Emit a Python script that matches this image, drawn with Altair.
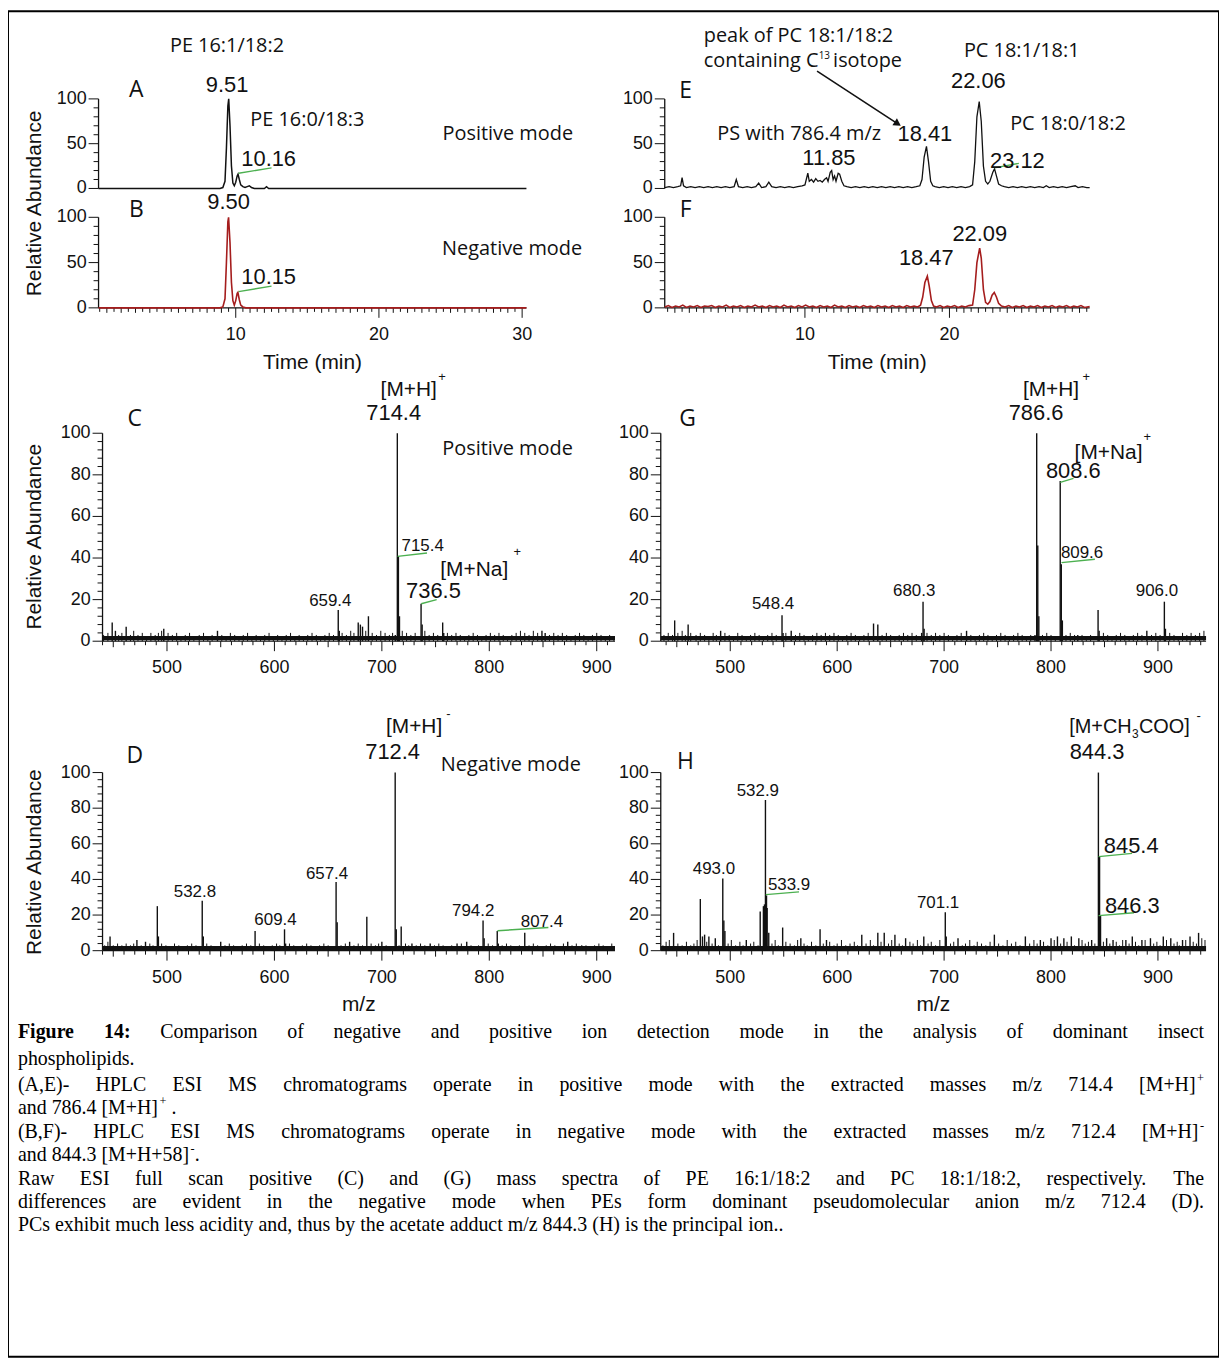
import altair as alt
import pandas as pd

W, H = 1217, 1352

# ---------------- chromatograms: (time [min], relative abundance [%]) ----------------
A_trace = [(0.42, 0), (8.9, 0), (9.1, 1), (9.25, 8), (9.35, 45), (9.45, 92), (9.51, 100), (9.6, 70),
           (9.7, 25), (9.8, 6), (9.9, 3), (10.0, 7), (10.1, 14), (10.16, 16), (10.25, 10), (10.35, 4),
           (10.5, 2), (10.65, 1), (10.8, 2), (10.95, 3), (11.1, 1), (11.3, 0), (12.0, 0), (12.15, 2),
           (12.3, 0), (30.3, 0)]
B_trace = [(0.42, 0), (8.9, 0), (9.1, 1), (9.25, 10), (9.35, 50), (9.45, 95), (9.50, 100), (9.6, 72),
           (9.7, 28), (9.8, 8), (9.9, 3), (10.0, 8), (10.1, 16), (10.15, 17), (10.25, 9), (10.35, 3),
           (10.5, 1), (10.7, 0), (30.3, 0)]
E_trace = [(0.3, 1), (0.6, 2), (0.9, 1), (1.2, 2), (1.4, 3), (1.5, 12), (1.6, 3), (1.8, 1), (2.1, 2),
           (2.4, 1), (2.7, 2), (3.0, 1), (3.3, 2), (3.6, 1), (3.9, 2), (4.2, 1), (4.5, 2), (4.8, 1),
           (5.1, 2), (5.25, 10), (5.4, 2), (5.7, 1), (6.0, 2), (6.3, 1), (6.6, 2), (6.8, 6), (7.0, 1),
           (7.3, 2), (7.5, 7), (7.7, 2), (8.0, 1), (8.3, 2), (8.6, 1), (8.9, 2), (9.2, 1), (9.5, 2),
           (9.8, 3), (10.0, 4), (10.2, 17), (10.3, 8), (10.45, 10), (10.6, 7), (10.75, 11), (10.9, 8),
           (11.05, 9), (11.2, 7), (11.35, 10), (11.5, 12), (11.6, 8), (11.75, 18), (11.85, 20),
           (11.95, 10), (12.05, 14), (12.15, 8), (12.3, 17), (12.4, 16), (12.55, 8), (12.7, 3),
           (12.9, 2), (13.2, 1), (13.5, 2), (13.8, 1), (14.1, 2), (14.4, 1), (14.7, 2), (15.0, 1),
           (15.3, 2), (15.6, 1), (15.9, 2), (16.2, 1), (16.5, 2), (16.8, 1), (17.1, 2), (17.4, 1),
           (17.7, 2), (17.95, 3), (18.1, 10), (18.25, 35), (18.41, 47), (18.55, 30), (18.7, 8),
           (18.85, 3), (19.0, 2), (19.3, 1), (19.6, 2), (19.9, 1), (20.2, 2), (20.5, 1), (20.8, 2),
           (21.1, 1), (21.4, 2), (21.6, 4), (21.75, 30), (21.9, 80), (22.06, 97), (22.2, 75),
           (22.35, 25), (22.5, 8), (22.65, 5), (22.8, 8), (23.0, 18), (23.12, 22), (23.25, 14),
           (23.4, 5), (23.6, 3), (23.8, 2), (24.1, 1), (24.4, 2), (24.7, 1), (25.0, 2), (25.3, 1),
           (25.6, 2), (25.9, 1), (26.2, 2), (26.5, 1), (26.7, 3), (26.9, 1), (27.2, 2), (27.5, 1),
           (27.8, 2), (28.1, 1), (28.4, 2), (28.7, 3), (28.9, 1), (29.2, 2), (29.5, 1), (29.7, 1)]
F_trace = [(0.3, 1), (0.55, 2.5), (0.8, 0.5), (1.05, 2), (1.3, 1), (1.55, 3), (1.8, 0.5), (2.05, 2),
           (2.3, 1), (2.55, 2.5), (2.8, 0.5), (3.05, 2), (3.3, 1.5), (3.55, 2.5), (3.8, 0.5), (4.05, 2),
           (4.3, 1), (4.55, 3), (4.8, 0.5), (5.05, 2), (5.3, 1), (5.55, 2.5), (5.8, 0.5), (6.05, 2),
           (6.3, 1), (6.55, 3), (6.8, 1), (7.05, 2), (7.3, 0.5), (7.55, 2.5), (7.8, 1), (8.05, 2),
           (8.3, 0.5), (8.55, 3), (8.8, 1), (9.05, 2), (9.3, 0.5), (9.55, 2.5), (9.8, 1), (10.05, 3),
           (10.3, 1), (10.55, 2), (10.8, 0.5), (11.05, 2.5), (11.3, 1), (11.55, 2), (11.8, 0.5),
           (12.05, 3), (12.3, 1), (12.55, 2), (12.8, 0.5), (13.05, 2.5), (13.3, 1), (13.55, 2),
           (13.8, 0.5), (14.05, 2.5), (14.3, 1), (14.55, 2), (14.8, 0.5), (15.05, 2.5), (15.3, 1),
           (15.55, 2), (15.8, 0.5), (16.05, 2.5), (16.3, 1), (16.55, 2), (16.8, 0.5), (17.05, 2.5),
           (17.3, 1), (17.55, 2), (17.8, 1), (18.0, 3), (18.15, 12), (18.3, 28), (18.47, 35),
           (18.6, 24), (18.75, 8), (18.9, 2), (19.1, 1), (19.35, 2.5), (19.6, 0.5), (19.85, 2),
           (20.1, 1), (20.35, 2.5), (20.6, 0.5), (20.85, 2), (21.1, 1), (21.35, 2.5), (21.6, 3),
           (21.75, 20), (21.9, 50), (22.09, 66), (22.2, 55), (22.35, 20), (22.5, 6), (22.65, 4),
           (22.8, 7), (22.95, 14), (23.1, 17), (23.25, 12), (23.4, 5), (23.6, 2), (23.85, 1),
           (24.1, 2.5), (24.35, 0.5), (24.6, 2), (24.85, 1), (25.1, 2.5), (25.35, 0.5), (25.6, 2),
           (25.85, 1), (26.1, 2.5), (26.35, 0.5), (26.6, 2), (26.85, 1), (27.1, 2.5), (27.35, 0.5),
           (27.6, 2), (27.85, 1), (28.1, 2.5), (28.35, 0.5), (28.6, 2), (28.85, 1), (29.1, 2.5),
           (29.35, 0.5), (29.7, 1.5)]

# ---------------- mass spectra: (m/z, relative abundance [%]) ----------------
C_peaks = [(449, 9), (452, 5), (462, 7), (497, 6), (547, 5), (659.4, 15), (660.4, 5), (678, 9),
           (680, 8), (682, 7), (687.5, 12), (712.5, 3), (714.4, 100), (715.4, 41), (716.4, 12),
           (736.5, 18), (737.5, 8), (756.6, 9), (757.6, 4), (849, 5), (852, 4)]
C_noise = [(441, 3), (445, 4), (455, 3), (458, 4), (466, 3), (469, 5), (473, 3), (477, 4), (481, 2),
           (485, 4), (489, 3), (492, 4), (495, 5), (501, 4), (505, 3), (509, 4), (513, 2), (517, 3),
           (521, 4), (525, 2), (530, 3), (534, 4), (538, 2), (542, 3), (551, 3), (555, 2), (559, 4),
           (563, 3), (567, 2), (571, 3), (575, 4), (579, 2), (583, 3), (587, 2), (591, 3), (595, 4),
           (599, 2), (603, 3), (607, 2), (611, 3), (615, 4), (619, 2), (623, 3), (627, 2), (631, 3),
           (635, 4), (639, 3), (643, 2), (647, 3), (651, 4), (655, 3), (663, 4), (667, 3), (671, 5),
           (674, 4), (685, 5), (691, 4), (695, 3), (699, 5), (703, 4), (707, 3), (710, 4), (719, 5),
           (723, 4), (727, 3), (731, 4), (740, 5), (744, 3), (748, 4), (752, 3), (761, 4), (765, 3),
           (769, 4), (773, 3), (777, 2), (781, 3), (785, 4), (789, 3), (793, 2), (797, 3), (801, 4),
           (805, 3), (809, 4), (813, 3), (817, 2), (821, 3), (825, 4), (829, 5), (833, 4), (837, 3),
           (841, 5), (845, 4), (856, 3), (860, 4), (864, 3), (868, 4), (872, 3), (876, 2), (880, 3),
           (884, 4), (888, 3), (892, 2), (896, 3), (900, 4), (904, 3), (908, 2), (912, 3), (916, 2)]
G_peaks = [(448, 10), (460.6, 8), (491, 5), (548.4, 12.5), (549.4, 4), (557, 5), (634, 8.5), (638, 8),
           (679, 4), (680.3, 19), (681.3, 6), (721, 5), (785, 3), (786.6, 100), (787.6, 46),
           (788.6, 12), (808.6, 77), (809.6, 37), (810.6, 10), (825, 3), (844, 15), (845, 5),
           (889.6, 5), (906.0, 19), (907, 6)]
G_noise = [(438, 3), (442, 4), (446, 3), (451, 4), (455, 5), (458, 3), (463, 4), (468, 3), (472, 4),
           (476, 3), (480, 2), (484, 4), (487, 3), (495, 4), (499, 3), (503, 2), (507, 4), (511, 3),
           (515, 2), (519, 3), (523, 4), (527, 3), (531, 2), (535, 3), (539, 4), (543, 3), (552, 4),
           (561, 3), (565, 4), (569, 3), (573, 2), (577, 3), (581, 4), (585, 3), (589, 4), (593, 3),
           (597, 4), (601, 3), (605, 2), (609, 3), (613, 4), (617, 3), (621, 2), (625, 3), (629, 4),
           (642, 3), (646, 4), (650, 3), (654, 2), (658, 3), (662, 4), (666, 3), (670, 4), (674, 3),
           (684, 4), (688, 3), (692, 4), (696, 3), (700, 4), (704, 3), (708, 2), (712, 3), (716, 4),
           (725, 3), (729, 2), (733, 3), (737, 4), (741, 3), (745, 2), (749, 3), (753, 4), (757, 3),
           (761, 2), (765, 3), (769, 4), (773, 3), (777, 2), (781, 3), (792, 3), (796, 4), (800, 3),
           (804, 2), (814, 3), (818, 4), (822, 3), (829, 3), (833, 2), (837, 3), (849, 4), (853, 3),
           (857, 2), (861, 3), (865, 4), (869, 3), (873, 2), (877, 3), (881, 4), (885, 3), (894, 3),
           (898, 4), (902, 3), (911, 4), (915, 3), (919, 2), (923, 4), (927, 3), (931, 4), (935, 3),
           (939, 4), (943, 5)]
D_peaks = [(447, 8), (472, 6), (480, 5), (491, 25), (492, 8), (532.8, 28), (533.8, 8), (550, 5),
           (582, 11), (609.4, 12), (610.4, 4), (657.4, 38.5), (658.4, 16), (670, 5), (686, 19),
           (700, 5), (712.4, 100), (713.4, 12), (718, 13.6), (728, 4), (745, 4), (770, 4), (779, 5),
           (794.2, 17), (795.2, 7), (807.4, 11), (808.4, 4), (833, 10), (873, 5), (886, 3)]
D_noise = [(442, 3), (445, 5), (450, 3), (454, 4), (458, 3), (462, 4), (466, 3), (469, 4), (476, 3),
           (484, 4), (487, 3), (495, 4), (499, 3), (503, 2), (507, 4), (511, 3), (515, 2), (519, 3),
           (523, 4), (527, 3), (537, 4), (541, 3), (545, 2), (554, 3), (558, 4), (562, 3), (566, 2),
           (570, 3), (574, 4), (578, 3), (586, 4), (590, 3), (594, 2), (598, 3), (602, 4), (605, 3),
           (614, 4), (618, 3), (622, 2), (626, 3), (630, 4), (634, 3), (638, 2), (642, 3), (646, 4),
           (650, 3), (654, 2), (662, 3), (666, 4), (674, 3), (678, 4), (682, 3), (690, 4), (694, 3),
           (697, 4), (704, 3), (708, 2), (716, 3), (722, 4), (725, 3), (732, 3), (736, 4), (740, 3),
           (749, 3), (753, 4), (757, 3), (761, 2), (765, 3), (774, 4), (783, 3), (787, 2), (790, 3),
           (799, 4), (803, 3), (812, 3), (816, 4), (820, 3), (824, 2), (828, 3), (837, 3), (841, 4),
           (845, 3), (849, 2), (853, 3), (857, 4), (861, 3), (865, 2), (869, 4), (877, 3), (881, 4),
           (890, 3), (894, 2), (898, 3), (902, 4), (906, 3), (910, 2), (914, 4)]
H_peaks = [(447, 10), (472, 29), (474, 8), (476, 9), (480, 8), (486, 7), (493.0, 40.5), (494, 17),
           (495, 11), (515, 6), (528, 22), (531, 25), (532, 26), (532.9, 84.6), (533.9, 31),
           (534.5, 24), (536, 10), (549, 13), (566, 7), (584, 12), (590, 6), (623, 9), (638, 10),
           (644, 10), (654, 9), (664, 7), (681, 8), (701.1, 21.6), (702, 8), (713, 7), (747, 9),
           (776, 8), (790, 6), (800, 7), (806, 8), (812, 7), (819, 8), (826, 7), (838, 6),
           (844.3, 100), (845.4, 53), (846.3, 20), (852, 7), (858, 6), (870, 6), (876, 8), (885, 6),
           (893, 7), (905, 8), (912, 7), (923, 6), (930, 8), (938, 10)]
H_noise = [(437, 3), (440, 5), (443, 6), (451, 4), (455, 3), (459, 5), (463, 3), (466, 4), (469, 6),
           (478, 5), (483, 4), (489, 3), (498, 4), (501, 6), (505, 3), (509, 5), (512, 3), (519, 4),
           (522, 5), (526, 3), (539, 4), (542, 6), (545, 3), (552, 5), (556, 4), (560, 3), (563, 6),
           (569, 4), (572, 3), (576, 5), (580, 3), (587, 4), (593, 5), (597, 3), (600, 4), (604, 6),
           (608, 3), (612, 4), (616, 5), (619, 3), (627, 4), (631, 6), (634, 3), (641, 5), (648, 4),
           (651, 6), (658, 4), (661, 3), (668, 5), (671, 4), (675, 6), (678, 3), (685, 4), (688, 5),
           (692, 3), (696, 6), (706, 4), (709, 5), (717, 3), (720, 4), (724, 6), (728, 3), (731, 5),
           (735, 4), (739, 3), (743, 5), (751, 4), (755, 3), (759, 6), (763, 4), (767, 5), (771, 3),
           (780, 4), (784, 6), (787, 4), (793, 5), (797, 3), (803, 6), (809, 4), (815, 5), (822, 3),
           (829, 6), (832, 4), (835, 5), (841, 4), (849, 5), (855, 4), (861, 5), (864, 3), (867, 6),
           (873, 4), (879, 5), (882, 3), (888, 6), (896, 4), (899, 5), (902, 3), (908, 6), (915, 4),
           (918, 5), (920, 3), (926, 6), (933, 5), (936, 4), (941, 7), (944, 6)]

# ---------------- axis ticks ----------------
TIME_TICKS = [i / 2 for i in range(1, 61)]
TIME_MAJOR = [10, 20, 30]
MZ_TICKS = list(range(440, 950, 10))
MZ_MAJOR = [500, 600, 700, 800, 900]

# ---------------- annotations (text, x in data units, y in %, font size) ----------------
A_num = [("9.51", 9.39, 115.6, 22), ("10.16", 12.3, 33, 22)]
A_ann = [("PE 16:1/18:2", 9.39, 159, 20), ("PE 16:0/18:3", 15.0, 76.7, 20),
         ("Positive mode", 29.0, 61, 20), ("A", 3.06, 109.4, 23)]
A_lead = [(10.2, 17, 12.5, 23)]
B_num = [("9.50", 9.5, 116.5, 22), ("10.15", 12.3, 34, 22)]
B_ann = [("Negative mode", 29.3, 65, 20), ("B", 3.06, 108, 23)]
B_lead = [(10.2, 18, 12.5, 24)]
E_num = [("22.06", 22.0, 120, 22), ("18.41", 18.3, 61, 22), ("11.85", 11.66, 34, 22), ("23.12", 24.7, 31, 22)]
E_ann = [("PC 18:1/18:1", 25.0, 153, 20), ("PS with 786.4 m/z", 9.6, 61, 20),
         ("PC 18:0/18:2", 28.2, 72, 20), ("E", 1.75, 109, 23)]
E_ann_left = [("peak of PC 18:1/18:2", 3.0, 170, 20), ("containing C", 3.0, 142, 20),
              ("13", 10.95, 147.5, 10), ("isotope", 11.95, 142, 20)]
E_lead = [(23.1, 23, 24.8, 28)]
E_arrow = [(10.84, 131, 16.35, 73)]
F_num = [("18.47", 18.4, 55, 22), ("22.09", 22.1, 81, 22)]
F_ann = [("F", 1.75, 108, 23)]
C_num = [("[M+H]", 725, 121, 21), ("+", 756, 127, 13), ("714.4", 711, 109.6, 22), ("715.4", 738, 45.6, 17),
         ("[M+Na]", 786, 34.4, 21), ("+", 826, 43, 13), ("736.5", 748, 24, 22), ("659.4", 652, 19.4, 17)]
C_ann = [("Positive mode", 817, 92.4, 20), ("C", 470, 107, 23)]
C_lead = [(714.6, 40.8, 742, 42.4), (736.6, 18, 751, 20)]
G_num = [("[M+H]", 800, 121, 21), ("+", 833, 127, 13), ("786.6", 786, 109.6, 22),
         ("[M+Na]", 853.8, 90.4, 21), ("+", 890, 98, 13), ("808.6", 820.8, 81.8, 22),
         ("809.6", 829, 42.5, 17), ("548.4", 540, 18.1, 17), ("680.3", 672, 24, 17), ("906.0", 899, 24, 17)]
G_ann = [("G", 460, 107, 23)]
G_lead = [(808.6, 76.4, 821, 78.3), (809.8, 37.8, 841, 39.4)]
D_num = [("[M+H]", 730, 125.7, 21), ("-", 762, 133, 13), ("712.4", 710, 111.7, 22),
         ("532.8", 526, 32.8, 17), ("657.4", 649, 43, 17), ("609.4", 601, 17.3, 17),
         ("794.2", 785, 22, 17), ("807.4", 849, 16.3, 17)]
D_ann = [("Negative mode", 820, 104, 20), ("D", 470, 109, 23)]
D_lead = [(807.6, 11.2, 855, 13)]
H_num = [("844.3", 843, 111.7, 22), ("532.9", 525.8, 89.8, 17), ("493.0", 484.7, 45.7, 17),
         ("533.9", 555, 37, 17), ("701.1", 694.4, 27, 17), ("845.4", 875, 58.6, 22), ("846.3", 876, 25.2, 22)]
H_num_left = [("[M+CH", 817, 125.7, 20), ("3", 875.8, 121.5, 12), ("COO]", 882.2, 125.7, 20), ("-", 936, 132, 13)]
H_ann = [("H", 458, 106, 23)]
H_lead = [(844.5, 52.8, 875.8, 54.6), (844.5, 19.7, 877.6, 21.3), (533.2, 31.5, 564.3, 33)]

CAPTION = [
    ("*Figure *14: Comparison of negative and positive ion detection mode in the analysis of dominant insect", True),
    ("phospholipids.", False),
    ("(A,E)- HPLC ESI MS chromatograms operate in positive mode with the extracted masses m/z 714.4 [M+H]^+", True),
    ("and 786.4 [M+H]^+ .", False),
    ("(B,F)- HPLC ESI MS chromatograms operate in negative mode with the extracted masses m/z 712.4 [M+H]^-", True),
    ("and 844.3 [M+H+58]^-.", False),
    ("Raw ESI full scan positive (C) and (G) mass spectra of PE 16:1/18:2 and PC 18:1/18:2, respectively. The", True),
    ("differences are evident in the negative mode when PEs form dominant pseudomolecular anion m/z 712.4 (D).", True),
    ("PCs exhibit much less acidity and, thus by the acetate adduct m/z 844.3 (H) is the principal ion..", False),
]
CAP_Y = [1026, 1053, 1079, 1102, 1126, 1149, 1173, 1197, 1220]
CAP_X0, CAP_X1, CAP_FS = 10, 1202, 20

# ---------------- layout (pixel ranges inside the bordered canvas) ----------------
AB_X = ([0.42, 30.3], [91, 521])
EF_X = ([0.3, 29.7], [660, 1087])
CD_X = ([440, 917], [95, 610])
GH_X = ([435, 945], [656, 1204])
A_Y, B_Y, C_Y, D_Y = [178, 88], [298, 207], [633, 424], [944, 765]

BLACK, RED, GREEN = "#111111", "#a51d1d", "#4cb050"
SANS, MYRIAD = "Liberation Sans", "Open Sans"


def sc(dom, rng):
    return alt.Scale(domain=dom, range=rng, nice=False, zero=False)


def X(xs, f="x"):
    return alt.X(f"{f}:Q", scale=xs, axis=None)


def Y(ys, f="y"):
    return alt.Y(f"{f}:Q", scale=ys, axis=None)


def y_axis(xs, ys, xpos, minor, major):
    minor_v = [v for v in range(0, 101, minor) if v % major]
    major_v = list(range(0, 101, major))
    dom = pd.DataFrame([{"x": xpos, "y": 0, "y2": 100}])
    mi = pd.DataFrame({"x": xpos, "y": minor_v})
    ma = pd.DataFrame({"x": xpos, "y": major_v, "t": [str(v) for v in major_v]})
    return [
        alt.Chart(dom).mark_rule(color=BLACK, strokeWidth=1.3).encode(x=X(xs), y=Y(ys), y2="y2:Q"),
        alt.Chart(mi).mark_rule(color=BLACK, strokeWidth=1, x2Offset=-5).encode(x=X(xs), y=Y(ys), x2="x:Q", y2="y:Q"),
        alt.Chart(ma).mark_rule(color=BLACK, strokeWidth=1, x2Offset=-10).encode(x=X(xs), y=Y(ys), x2="x:Q", y2="y:Q"),
        alt.Chart(ma).mark_text(font=SANS, fontSize=18, align="right", baseline="middle", dx=-12, color=BLACK).encode(
            x=X(xs), y=Y(ys), text="t:N"),
    ]


def x_axis(xs, ys, dom, ticks, mids, majors, title=None, mid_len=6):
    base = pd.DataFrame([{"x": dom[0], "x2": dom[1], "y": 0}])
    mi = pd.DataFrame({"x": [v for v in ticks if v not in majors and v not in mids], "y": 0})
    md = pd.DataFrame({"x": [v for v in mids if v not in majors], "y": 0})
    ma = pd.DataFrame({"x": majors, "y": 0, "t": [str(v) for v in majors]})
    out = [
        alt.Chart(base).mark_rule(color=BLACK, strokeWidth=1.3).encode(x=X(xs), x2="x2:Q", y=Y(ys)),
        alt.Chart(mi).mark_rule(color=BLACK, strokeWidth=1, y2Offset=4).encode(x=X(xs), y=Y(ys), x2="x:Q", y2="y:Q"),
        alt.Chart(ma).mark_rule(color=BLACK, strokeWidth=1, y2Offset=10).encode(x=X(xs), y=Y(ys), x2="x:Q", y2="y:Q"),
        alt.Chart(ma).mark_text(font=SANS, fontSize=18, align="center", baseline="middle", dy=27, color=BLACK).encode(
            x=X(xs), y=Y(ys), text="t:N"),
    ]
    if len(md):
        out.append(alt.Chart(md).mark_rule(color=BLACK, strokeWidth=1, y2Offset=mid_len).encode(
            x=X(xs), y=Y(ys), x2="x:Q", y2="y:Q"))
    if title:
        tdf = pd.DataFrame([{"x": (dom[0] + dom[1]) / 2, "y": 0, "t": title}])
        out.append(alt.Chart(tdf).mark_text(font=SANS, fontSize=21, align="center", baseline="middle", dy=55,
                                            color=BLACK).encode(x=X(xs), y=Y(ys), text="t:N"))
    return out


def texts(rows, xs, ys, font, align="center"):
    df = pd.DataFrame(rows, columns=["t", "x", "y", "s"])
    return alt.Chart(df).mark_text(font=font, align=align, baseline="middle", color=BLACK).encode(
        x=X(xs), y=Y(ys), text="t:N", size=alt.Size("s:Q", scale=None))


def leads(rows, xs, ys, color=GREEN, width=1.4):
    df = pd.DataFrame(rows, columns=["x", "y", "x2", "y2"])
    return alt.Chart(df).mark_rule(color=color, strokeWidth=width).encode(
        x=X(xs), y=Y(ys), x2="x2:Q", y2="y2:Q")


def trace(pairs, xs, ys, color, width=1.5):
    df = pd.DataFrame(pairs, columns=["x", "y"])
    return alt.Chart(df).mark_line(color=color, strokeWidth=width).encode(x=X(xs), y=Y(ys))


def sticks(pairs, xs, ys, width=1.2):
    df = pd.DataFrame(pairs, columns=["x", "y"])
    return alt.Chart(df).mark_rule(color=BLACK, strokeWidth=width).encode(x=X(xs), y=Y(ys), y2=alt.datum(0))


def baseline(dom, xs, ys, level, width):
    df = pd.DataFrame([(dom[0], dom[1], level)], columns=["x", "x2", "y"])
    return alt.Chart(df).mark_rule(color=BLACK, strokeWidth=width).encode(x=X(xs), x2="x2:Q", y=Y(ys))


# ---------- panels ----------
xa, ya, yb = sc(*AB_X), sc([0, 100], A_Y), sc([0, 100], B_Y)
xe = sc(*EF_X)
xc, yc, yd = sc(*CD_X), sc([0, 100], C_Y), sc([0, 100], D_Y)
xg = sc(*GH_X)
time_mid = [float(v) for v in range(1, 31)]
mz_mid = list(range(450, 950, 50))

pA = alt.layer(*y_axis(xa, ya, AB_X[0][0], 10, 50), trace(A_trace, xa, ya, BLACK),
               leads(A_lead, xa, ya), texts(A_num, xa, ya, SANS), texts(A_ann, xa, ya, MYRIAD))
pB = alt.layer(*y_axis(xa, yb, AB_X[0][0], 10, 50),
               *x_axis(xa, yb, AB_X[0], [t for t in TIME_TICKS if t <= 30.3], time_mid, TIME_MAJOR, "Time (min)", 5),
               trace(B_trace, xa, yb, RED, 1.6),
               leads(B_lead, xa, yb), texts(B_num, xa, yb, SANS), texts(B_ann, xa, yb, MYRIAD))
arrow_df = pd.DataFrame(E_arrow, columns=["x", "y", "x2", "y2"])
pE = alt.layer(*y_axis(xe, ya, EF_X[0][0], 10, 50), trace(E_trace, xe, ya, BLACK, 1.3),
               leads(E_lead, xe, ya), leads(E_arrow, xe, ya, color=BLACK, width=1.6),
               alt.Chart(arrow_df).mark_point(shape="triangle", filled=True, color=BLACK, size=70, angle=123,
                                              opacity=1).encode(x=X(xe, "x2"), y=Y(ya, "y2")),
               texts(E_num, xe, ya, SANS), texts(E_ann, xe, ya, MYRIAD), texts(E_ann_left, xe, ya, MYRIAD, "left"))
pF = alt.layer(*y_axis(xe, yb, EF_X[0][0], 10, 50),
               *x_axis(xe, yb, EF_X[0], [t for t in TIME_TICKS if t <= 29.7], [t for t in time_mid if t <= 29.7],
                       [10, 20], "Time (min)", 5),
               trace(F_trace, xe, yb, RED, 1.6), texts(F_num, xe, yb, SANS), texts(F_ann, xe, yb, MYRIAD))
pC = alt.layer(*y_axis(xc, yc, CD_X[0][0], 4, 20),
               *x_axis(xc, yc, CD_X[0], [m for m in MZ_TICKS if m <= 917], mz_mid, MZ_MAJOR),
               baseline(CD_X[0], xc, yc, 1.5, 4), sticks(C_noise, xc, yc, 1.0), sticks(C_peaks, xc, yc, 1.4),
               leads(C_lead, xc, yc), texts(C_num, xc, yc, SANS), texts(C_ann, xc, yc, MYRIAD))
pG = alt.layer(*y_axis(xg, yc, GH_X[0][0], 4, 20),
               *x_axis(xg, yc, GH_X[0], MZ_TICKS, mz_mid, MZ_MAJOR),
               baseline(GH_X[0], xg, yc, 1.5, 4), sticks(G_noise, xg, yc, 1.0), sticks(G_peaks, xg, yc, 1.4),
               leads(G_lead, xg, yc), texts(G_num, xg, yc, SANS), texts(G_ann, xg, yc, MYRIAD))
pD = alt.layer(*y_axis(xc, yd, CD_X[0][0], 4, 20),
               *x_axis(xc, yd, CD_X[0], [m for m in MZ_TICKS if m <= 917], mz_mid, MZ_MAJOR, "m/z"),
               baseline(CD_X[0], xc, yd, 1.5, 4), sticks(D_noise, xc, yd, 1.0), sticks(D_peaks, xc, yd, 1.4),
               leads(D_lead, xc, yd), texts(D_num, xc, yd, SANS), texts(D_ann, xc, yd, MYRIAD))
pH = alt.layer(*y_axis(xg, yd, GH_X[0][0], 4, 20),
               *x_axis(xg, yd, GH_X[0], MZ_TICKS, mz_mid, MZ_MAJOR, "m/z"),
               baseline(GH_X[0], xg, yd, 1.5, 4), sticks(H_noise, xg, yd, 1.0), sticks(H_peaks, xg, yd, 1.4),
               leads(H_lead, xg, yd), texts(H_num, xg, yd, SANS), texts(H_num_left, xg, yd, SANS, "left"),
               texts(H_ann, xg, yd, MYRIAD))

# ---------------- caption layout (Times metrics, justified) ----------------
TIMES = {" ": 250, "(": 333, ")": 333, "+": 564, ",": 250, "-": 333, ".": 250, "/": 278, ":": 278,
         "[": 333, "]": 333, "A": 722, "B": 667, "C": 667, "D": 722, "E": 611, "F": 556, "G": 722,
         "H": 722, "I": 333, "L": 611, "M": 889, "N": 722, "P": 556, "R": 667, "S": 556, "T": 611,
         "a": 444, "b": 500, "c": 444, "d": 500, "e": 444, "f": 333, "g": 500, "h": 500, "i": 278,
         "j": 278, "k": 500, "l": 278, "m": 778, "n": 500, "o": 500, "p": 500, "q": 500, "r": 333,
         "s": 389, "t": 278, "u": 500, "v": 500, "w": 722, "x": 500, "y": 500, "z": 444}
TIMES_BOLD = {"F": 611, "i": 278, "g": 500, "u": 556, "r": 444, "e": 444, ":": 333}
SUP = 0.62


def cw(text, style):
    if style == "s":
        return sum(TIMES.get(c, 500) for c in text) * CAP_FS * SUP / 1000 + 1.5
    table = TIMES_BOLD if style == "b" else TIMES
    return sum(table.get(c, TIMES.get(c, 500)) for c in text) * CAP_FS / 1000


def runs_of(tok):
    bold = tok.startswith("*")
    if bold:
        tok = tok[1:]
    out, buf, i = [], "", 0
    while i < len(tok):
        if tok[i] == "^":
            if buf:
                out.append((buf, "b" if bold else "n"))
                buf = ""
            out.append((tok[i + 1], "s"))
            i += 2
        else:
            buf += tok[i]
            i += 1
    if buf:
        out.append((buf, "b" if bold else "n"))
    return out


cap_rows = []
for (line, just), ly in zip(CAPTION, CAP_Y):
    toks = [runs_of(t) for t in line.split(" ")]
    widths = [sum(cw(t, s) for t, s in tok) for tok in toks]
    gap = (CAP_X1 - CAP_X0 - sum(widths)) / (len(toks) - 1) if just else TIMES[" "] * CAP_FS / 1000
    x = CAP_X0
    for tok, w in zip(toks, widths):
        for t, s in tok:
            cap_rows.append({"t": t, "x": x + (1.5 if s == "s" else 0), "y": ly - (7 if s == "s" else 0),
                             "s": CAP_FS * (SUP if s == "s" else 1), "st": s})
            x += cw(t, s)
        x += gap
cap_df = pd.DataFrame(cap_rows)

cx, cy = sc([0, W], [0, W]), sc([0, H], [0, H])
titles_df = pd.DataFrame([("Relative Abundance", 27, 193), ("Relative Abundance", 27, 528),
                          ("Relative Abundance", 27, 855)], columns=["t", "x", "y"])
canvas = alt.layer(
    alt.Chart(titles_df).mark_text(font=SANS, fontSize=21, angle=270, color=BLACK, baseline="middle").encode(
        x=X(cx), y=Y(cy), text="t:N"),
    alt.Chart(cap_df).transform_filter("datum.st != 'b'").mark_text(
        font="Liberation Serif", align="left", baseline="middle", color="black").encode(
        x=X(cx), y=Y(cy), text="t:N", size=alt.Size("s:Q", scale=None)),
    alt.Chart(cap_df).transform_filter("datum.st == 'b'").mark_text(
        font="Liberation Serif", fontWeight="bold", align="left", baseline="middle", color="black").encode(
        x=X(cx), y=Y(cy), text="t:N", size=alt.Size("s:Q", scale=None)),
)

chart = alt.layer(pA, pB, pE, pF, pC, pG, pD, pH, canvas).resolve_scale(
    x="independent", y="independent").properties(
    width=W, height=H, autosize=alt.AutoSizeParams(type="none"), padding=0
).configure_view(stroke="black", strokeWidth=2)

chart.save("out.html", embed_options={"renderer": "svg", "actions": False})
